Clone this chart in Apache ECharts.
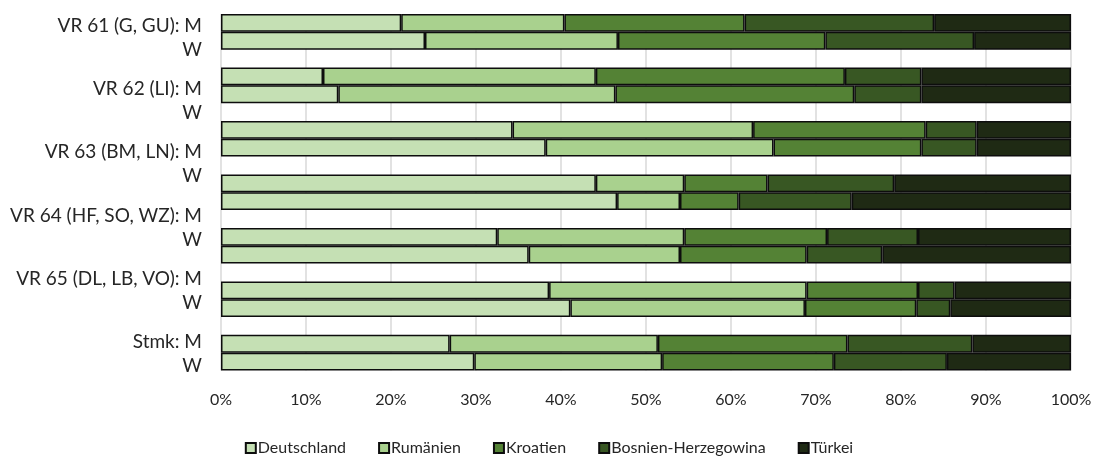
<!DOCTYPE html>
<html>
<head>
<meta charset="utf-8">
<script src="https://cdn.jsdelivr.net/npm/echarts@6/dist/echarts.min.js"></script>
<style>
  html, body { margin: 0; padding: 0; background: #fff; }
  #chart { width: 1098px; height: 457px; }
</style>
</head>
<body>
<div id="chart"></div>
<script>
// Region labels shown on the left (each with an M and a W line)
const regions = ['VR 61 (G, GU)', 'VR 62 (LI)', 'VR 63 (BM, LN)', 'VR 64 (HF, SO, WZ)', 'VR 65 (DL, LB, VO)', 'Stmk'];

// Bar pairs (M, W) from top to bottom, shares in percent
const barPairs = 7;
const deutschland = [21.2, 24.0, 12.0, 13.8, 34.3, 38.2, 44.1, 46.6, 32.5, 36.2, 38.6, 41.1, 26.9, 29.8];
const rumaenien   = [19.2, 22.7, 32.1, 32.6, 28.3, 26.8, 10.4, 7.4, 22.0, 17.8, 30.3, 27.6, 24.5, 22.1];
const kroatien    = [21.2, 24.4, 29.3, 28.1, 20.3, 17.4, 9.8, 6.9, 16.8, 14.9, 13.1, 13.1, 22.3, 20.2];
const bosnien     = [22.3, 17.5, 9.0, 7.9, 6.0, 6.5, 14.9, 13.3, 10.7, 8.9, 4.3, 4.0, 14.7, 13.3];
const tuerkei     = [16.1, 11.4, 17.6, 17.6, 11.1, 11.1, 20.8, 25.8, 18.0, 22.2, 13.7, 14.2, 11.6, 14.6];

const seriesNames = ['Deutschland', 'Rumänien', 'Kroatien', 'Bosnien-Herzegowina', 'Türkei'];
const seriesColors = ['#c5e0b4', '#a9d18e', '#548235', '#385723', '#1f2a14'];
const seriesValues = [deutschland, rumaenien, kroatien, bosnien, tuerkei];

const xTicks = { min: 0, max: 100, interval: 10 };

// Slots on the bar axis: M, W, then an empty spacer between pairs
const slots = [];
for (let g = 0; g < barPairs; g++) {
  slots.push(g * 2, g * 2 + 1);
  if (g < barPairs - 1) slots.push(null);
}
const slotNames = slots.map((s, i) => 'slot' + i);
const toSlots = arr => slots.map(s => (s === null ? '-' : arr[s]));

const FONT = 'Lato';
const TEXT = '#262626';

const chart = echarts.init(document.getElementById('chart'), null, { renderer: 'canvas' });

chart.setOption({
  animation: false,
  backgroundColor: '#fff',
  textStyle: { fontFamily: FONT },
  grid: [
    { left: 221, right: 27, top: 14, bottom: 86.5 },
    { left: 221, right: 27, top: 6, bottom: 71 }
  ],
  xAxis: [
    {
      gridIndex: 0,
      type: 'value',
      min: xTicks.min,
      max: xTicks.max,
      interval: xTicks.interval,
      axisLine: { show: false },
      axisTick: { show: false },
      splitLine: { show: true, lineStyle: { color: '#d9d9d9', width: 1.5 } },
      axisLabel: { formatter: '{value}%', fontFamily: FONT, fontSize: 16, color: TEXT, margin: 21 }
    },
    { gridIndex: 1, type: 'value', show: false, min: 0, max: 100 }
  ],
  yAxis: [
    {
      gridIndex: 0,
      type: 'category',
      inverse: true,
      data: slotNames,
      axisLine: { show: false },
      axisTick: { show: false },
      axisLabel: { show: false },
      splitLine: { show: false }
    },
    {
      gridIndex: 1,
      type: 'category',
      inverse: true,
      data: regions.map(r => r + ': M\nW'),
      axisLine: { show: false },
      axisTick: { show: false },
      splitLine: { show: false },
      axisLabel: {
        fontFamily: FONT, fontSize: 19, color: TEXT,
        lineHeight: 24, margin: 19, align: 'right'
      }
    }
  ],
  legend: {
    bottom: -4,
    left: 'center',
    icon: 'rect',
    itemWidth: 10,
    itemHeight: 10,
    itemGap: 32,
    textStyle: { fontFamily: FONT, fontSize: 16, color: TEXT, padding: [0, 0, 0, -3] },
    data: seriesNames
  },
  series: seriesNames.map((name, i) => ({
    name,
    type: 'bar',
    xAxisIndex: 0,
    yAxisIndex: 0,
    stack: 'total',
    barWidth: '100%',
    data: toSlots(seriesValues[i]),
    itemStyle: { color: seriesColors[i], borderColor: '#0d0d0d', borderWidth: 1.5 }
  }))
});
</script>
</body>
</html>
